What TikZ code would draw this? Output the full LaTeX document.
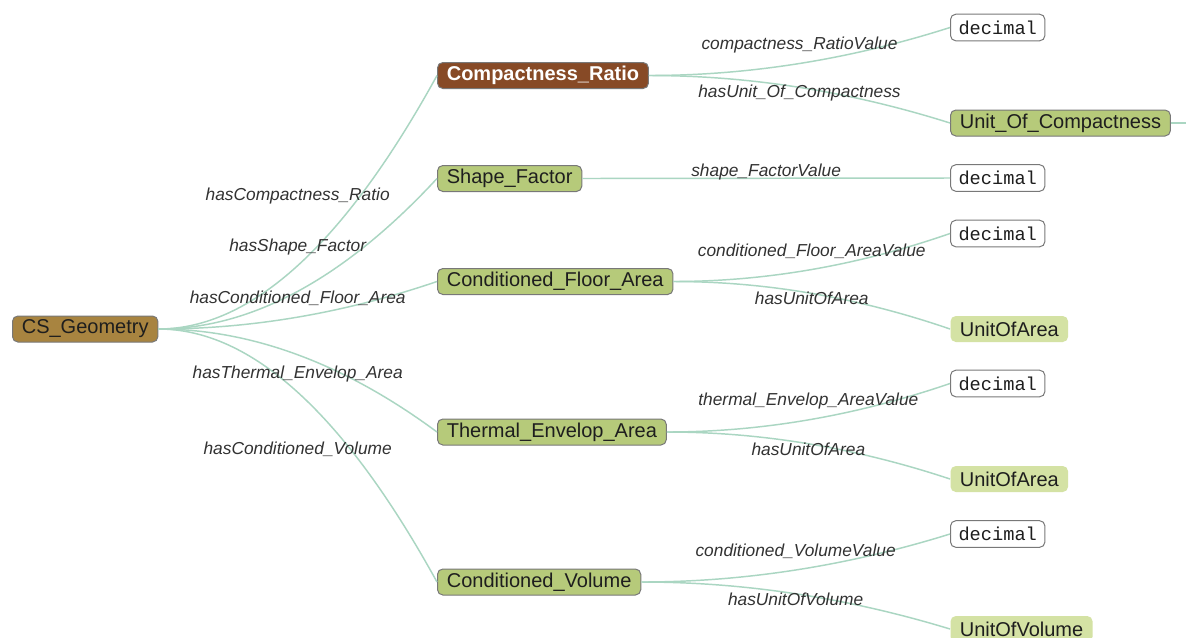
\documentclass[tikz,border=0pt]{standalone}
\usepackage{fontspec}
\setmainfont{Liberation Sans}
\newfontfamily\monofont{Liberation Mono}
\usetikzlibrary{calc}
\definecolor{edgec}{RGB}{170,214,194}
\definecolor{boxborder}{RGB}{120,120,120}
\definecolor{rootc}{RGB}{168,132,64}
\definecolor{selc}{RGB}{135,74,38}
\definecolor{clsgreen}{RGB}{182,202,122}
\definecolor{extc}{RGB}{212,226,164}
\definecolor{txt}{RGB}{30,30,30}
\definecolor{lbltxt}{RGB}{50,50,50}
\begin{document}
\begin{tikzpicture}[x=0.75pt,y=-0.75pt,
  box/.style={draw=boxborder, line width=0.75pt, rounded corners=4pt, minimum height=19.5pt,
    inner xsep=7pt, inner ysep=0pt, anchor=west, font=\fontsize{15}{18}\selectfont, text=txt},
  cls/.style={box, fill=clsgreen},
  root/.style={box, fill=rootc},
  sel/.style={box, fill=selc, text=white, font=\fontsize{15}{18}\selectfont\bfseries},
  lit/.style={box, fill=white, minimum height=20pt, inner xsep=6pt, font=\fontsize{14}{16}\monofont},
  ext/.style={box, draw=none, fill=extc},
  lbl/.style={font=\fontsize{13}{15}\selectfont\itshape, text=lbltxt, inner sep=0pt, yshift=5pt},
  edge/.style={draw=edgec, line width=1.1pt},
  qto/.style={to path={let \p1=(\tikztostart), \p2=(\tikztotarget) in
    .. controls ($(\p1)!2/3!({0.5*\x1+0.5*\x2},\y1)$) and ($(\p2)!2/3!({0.5*\x1+0.5*\x2},\y1)$) .. (\tikztotarget)}}
]
\useasboundingbox (0,0) rectangle (1186,637);
\fill[white] (0,0) rectangle (1186,637);

% nodes
\node[root] (geo) at (12,329) {CS\_Geometry};
\node[sel] (cr) at (437,75.5) {Compactness\_Ratio};
\node[cls] (sf) at (437,178.5) {Shape\_Factor};
\node[cls] (cfa) at (437,281.5) {Conditioned\_Floor\_Area};
\node[cls] (tea) at (437,432) {Thermal\_Envelop\_Area};
\node[cls] (cv) at (437,582) {Conditioned\_Volume};
\node[lit] (d1) at (950,27.5) {decimal};
\node[cls] (uoc) at (950,123) {Unit\_Of\_Compactness};
\node[lit] (d2) at (950,178) {decimal};
\node[lit] (d3) at (950,233.5) {decimal};
\node[ext] (ua1) at (950,329) {UnitOfArea};
\node[lit] (d4) at (950,383.5) {decimal};
\node[ext] (ua2) at (950,479) {UnitOfArea};
\node[lit] (d5) at (950,534) {decimal};
\node[ext] (uv) at (950,629) {UnitOfVolume};
\coordinate (off) at (1192,123);

% edges
\draw[edge] (geo.east) to[qto] (cr.west);
\draw[edge] (geo.east) to[qto] (sf.west);
\draw[edge] (geo.east) to[qto] (cfa.west);
\draw[edge] (geo.east) to[qto] (tea.west);
\draw[edge] (geo.east) to[qto] (cv.west);
\draw[edge] (cr.east) to[qto] (d1.west);
\draw[edge] (cr.east) to[qto] (uoc.west);
\draw[edge] (sf.east) -- (d2.west);
\draw[edge] (cfa.east) to[qto] (d3.west);
\draw[edge] (cfa.east) to[qto] (ua1.west);
\draw[edge] (tea.east) to[qto] (d4.west);
\draw[edge] (tea.east) to[qto] (ua2.west);
\draw[edge] (cv.east) to[qto] (d5.west);
\draw[edge] (cv.east) to[qto] (uv.west);
\draw[edge] (uoc.east) -- (off);

% labels
\node[lbl] (l1) at ($(geo.east)!0.5!(cr.west)$) {hasCompactness\_Ratio};
\node[lbl] (l2) at ($(geo.east)!0.5!(sf.west)$) {hasShape\_Factor};
\node[lbl] (l3) at ($(geo.east)!0.5!(cfa.west)$) {hasConditioned\_Floor\_Area};
\node[lbl] (l4) at ($(geo.east)!0.5!(tea.west)$) {hasThermal\_Envelop\_Area};
\node[lbl] (l5) at ($(geo.east)!0.5!(cv.west)$) {hasConditioned\_Volume};
\node[lbl] (l6) at ($(cr.east)!0.5!(d1.west)$) {compactness\_RatioValue};
\node[lbl] (l7) at ($(cr.east)!0.5!(uoc.west)$) {hasUnit\_Of\_Compactness};
\node[lbl] (l8) at ($(sf.east)!0.5!(d2.west)$) {shape\_FactorValue};
\node[lbl] (l9) at ($(cfa.east)!0.5!(d3.west)$) {conditioned\_Floor\_AreaValue};
\node[lbl] (l10) at ($(cfa.east)!0.5!(ua1.west)$) {hasUnitOfArea};
\node[lbl] (l11) at ($(tea.east)!0.5!(d4.west)$) {thermal\_Envelop\_AreaValue};
\node[lbl] (l12) at ($(tea.east)!0.5!(ua2.west)$) {hasUnitOfArea};
\node[lbl] (l13) at ($(cv.east)!0.5!(d5.west)$) {conditioned\_VolumeValue};
\node[lbl] (l14) at ($(cv.east)!0.5!(uv.west)$) {hasUnitOfVolume};
\end{tikzpicture}
\end{document}
